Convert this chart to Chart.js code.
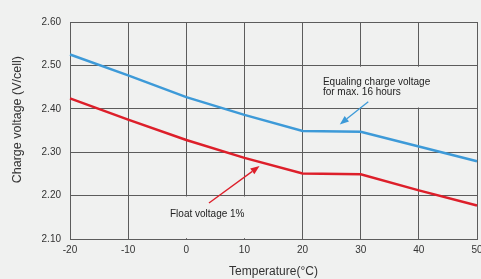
<!DOCTYPE html>
<html>
<head>
<meta charset="utf-8">
<script src="https://cdn.jsdelivr.net/npm/chart.js@4/dist/chart.umd.min.js"></script>
<style>
  html, body { margin: 0; padding: 0; background: #f0f1f0; }
  #wrap { width: 481px; height: 279px; position: relative; }
</style>
</head>
<body>
<div id="wrap"><canvas id="chart"></canvas></div>
<script>
// Datos
const temps = [-20, -10, 0, 10, 20, 30, 40, 50];
const equalizing = [2.525, 2.477, 2.427, 2.386, 2.349, 2.347, 2.313, 2.279];
const floatV = [2.424, 2.375, 2.328, 2.287, 2.251, 2.249, 2.212, 2.177];

const xTicks = [-20, -10, 0, 10, 20, 30, 40, 50];
const yTicks = [2.10, 2.20, 2.30, 2.40, 2.50, 2.60];

const blueLabel = ['Equaling charge voltage', 'for max. 16 hours'];
const redLabel = ['Float voltage 1%'];
const yTitle = 'Charge voltage (V/cell)';

const BLUE = '#3d9ad8';
const RED = '#dd1f2a';
const BG = '#f0f1f0';
const FAMILY = '"Liberation Sans", Arial, sans-serif';

// Anotaciones (texto + flecha) en coordenadas de datos
const notes = [
  { text: blueLabel, at: [23.5, 2.462], lineGap: 0.025, box: [22.6, 41.2, 2.497, 2.403],
    from: [31.3, 2.416], to: [26.4, 2.364], color: BLUE },
  { text: redLabel, at: [-2.8, 2.158], lineGap: 0, box: [-3.8, 13.6, 2.198, 2.102],
    from: [3.9, 2.183], to: [12.6, 2.268], color: RED }
];

function arrow(ctx, x1, y1, x2, y2, color) {
  const ang = Math.atan2(y2 - y1, x2 - x1);
  const head = 9, wing = 3.5;
  ctx.save();
  ctx.strokeStyle = color;
  ctx.fillStyle = color;
  ctx.lineWidth = 1.3;
  ctx.beginPath();
  ctx.moveTo(x1, y1);
  ctx.lineTo(x2 - head * Math.cos(ang), y2 - head * Math.sin(ang));
  ctx.stroke();
  ctx.beginPath();
  ctx.moveTo(x2, y2);
  ctx.lineTo(x2 - head * Math.cos(ang) + wing * Math.sin(ang), y2 - head * Math.sin(ang) - wing * Math.cos(ang));
  ctx.lineTo(x2 - head * Math.cos(ang) - wing * Math.sin(ang), y2 - head * Math.sin(ang) + wing * Math.cos(ang));
  ctx.closePath();
  ctx.fill();
  ctx.restore();
}

const notesPlugin = {
  id: 'notes',
  beforeDatasetsDraw(chart) {
    // tapar la rejilla detrás de los textos
    const { ctx, scales: { x, y } } = chart;
    ctx.save();
    ctx.fillStyle = BG;
    notes.forEach(n => {
      const l = x.getPixelForValue(n.box[0]), r = x.getPixelForValue(n.box[1]);
      const t = y.getPixelForValue(n.box[2]), b = y.getPixelForValue(n.box[3]);
      ctx.fillRect(l, t, r - l, b - t);
    });
    ctx.restore();
  },
  afterDatasetsDraw(chart) {
    const { ctx, scales: { x, y } } = chart;
    ctx.save();
    ctx.font = '10px ' + FAMILY;
    ctx.fillStyle = '#222';
    ctx.textBaseline = 'middle';
    notes.forEach(n => {
      n.text.forEach((line, i) => {
        ctx.fillText(line, x.getPixelForValue(n.at[0]), y.getPixelForValue(n.at[1] - i * n.lineGap));
      });
      arrow(ctx, x.getPixelForValue(n.from[0]), y.getPixelForValue(n.from[1]),
        x.getPixelForValue(n.to[0]), y.getPixelForValue(n.to[1]), n.color);
    });
    // título del eje Y, algo desplazado hacia arriba como en el original
    ctx.translate(18, y.getPixelForValue(2.375));
    ctx.rotate(-Math.PI / 2);
    ctx.font = '12.5px ' + FAMILY;
    ctx.fillStyle = '#333';
    ctx.textAlign = 'center';
    ctx.fillText(yTitle, 0, 0);
    ctx.restore();
  }
};

const font = { family: FAMILY, size: 10 };

new Chart(document.getElementById('chart'), {
  type: 'line',
  data: {
    labels: temps,
    datasets: [
      { label: 'Equalizing', data: temps.map((t, i) => ({ x: t, y: equalizing[i] })),
        borderColor: BLUE, borderWidth: 2.5, pointRadius: 0, tension: 0, clip: false },
      { label: 'Float', data: temps.map((t, i) => ({ x: t, y: floatV[i] })),
        borderColor: RED, borderWidth: 2.5, pointRadius: 0, tension: 0, clip: false }
    ]
  },
  options: {
    responsive: true,
    maintainAspectRatio: false,
    animation: false,
    layout: { padding: { left: 0, right: 4, top: 22, bottom: 0 } },
    plugins: { legend: { display: false }, tooltip: { enabled: false } },
    scales: {
      x: {
        type: 'linear',
        min: -20, max: 50,
        afterBuildTicks: s => { s.ticks = xTicks.map(v => ({ value: v })); },
        afterFit: s => { s.height = 40; s.paddingLeft = 0; s.paddingRight = 0; },
        grid: { color: '#5c5c5c', lineWidth: 1, drawTicks: false },
        border: { color: '#5c5c5c' },
        ticks: { color: '#333', font, padding: 5, maxRotation: 0 },
        title: { display: true, text: 'Temperature(°C)', color: '#333',
          font: { family: FAMILY, size: 12 }, padding: { top: 7, bottom: 0 } }
      },
      y: {
        min: 2.1, max: 2.6,
        afterBuildTicks: s => { s.ticks = yTicks.map(v => ({ value: v })); },
        afterFit: s => { s.width = 70; s.paddingTop = 0; s.paddingBottom = 0; },
        grid: { color: '#5c5c5c', lineWidth: 1, drawTicks: false },
        border: { color: '#5c5c5c' },
        ticks: { color: '#333', font, padding: 9, callback: v => v.toFixed(2) },
        title: { display: false }
      }
    }
  },
  plugins: [notesPlugin]
});
</script>
</body>
</html>
